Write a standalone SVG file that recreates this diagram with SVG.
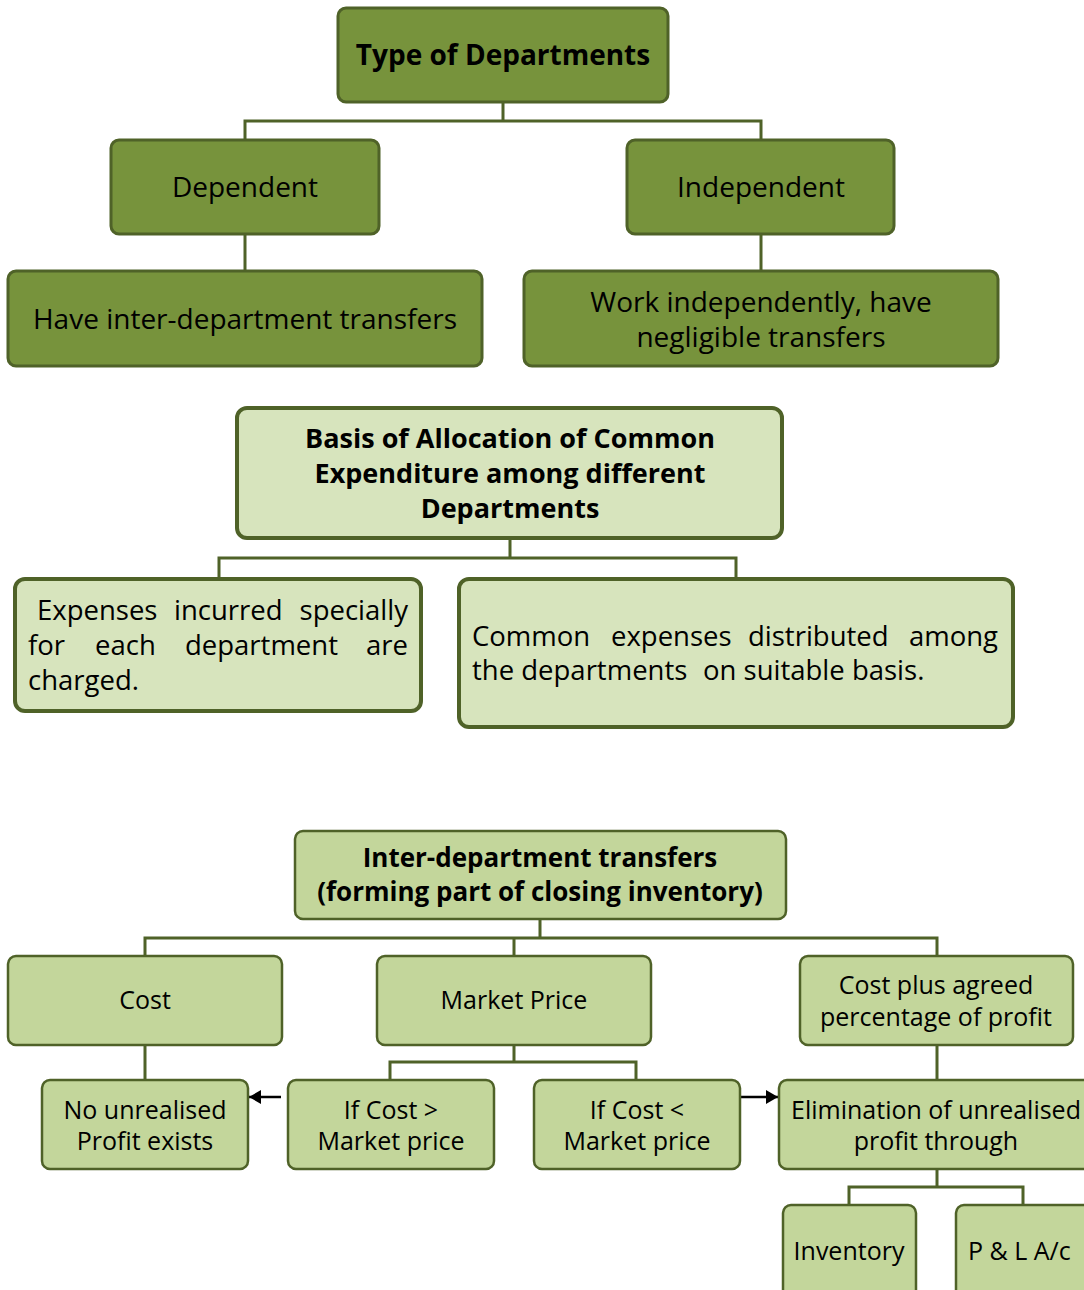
<svg xmlns="http://www.w3.org/2000/svg" width="1084" height="1290" viewBox="0 0 1084 1290">
<defs>
<style>
.t{font-family:"Open Sans","Noto Sans",sans-serif;font-size:25px;fill:#000;text-anchor:middle}
.s1{font-size:28px}
.s2{font-size:27.5px}
.s3{font-size:26px}
.s4{font-size:27px}
.b{font-weight:bold}
.l{text-anchor:start}
.e{text-anchor:end}
.dk{fill:#77933C;stroke:#4F6228;stroke-width:3}
.lt{fill:#D7E4BD;stroke:#4F6228;stroke-width:4}
.md{fill:#C3D69B;stroke:#4F6228;stroke-width:2.5}
.c{fill:none;stroke:#4F6228;stroke-width:3}
.a{fill:none;stroke:#000;stroke-width:2.5}
</style>
<marker id="ah" viewBox="0 0 12 14" refX="12" refY="7" markerWidth="12" markerHeight="14" markerUnits="userSpaceOnUse" orient="auto">
<path d="M0,0 L12,7 L0,14 z" fill="#000"/>
</marker>
</defs>
<rect width="1084" height="1290" fill="#fff"/>
<g id="connectors">
<path class="c" d="M503,102 V121 M245,140 V121 H761 V140 M245,234 V271 M761,234 V271"/>
<path class="c" d="M510,538 V558 M219,579 V558 H736 V579"/>
<path class="c" d="M540,919 V938 M145,956 V938 H937 V956 M514,938 V956"/>
<path class="c" d="M145,1045 V1080 M514,1045 V1062 M390,1080 V1062 H636 V1080 M937,1045 V1080"/>
<path class="c" d="M937,1169 V1187 M849,1205 V1187 H1023 V1205"/>
<path class="a" d="M281,1097 H249" marker-end="url(#ah)"/>
<path class="a" d="M736,1097 H778" marker-end="url(#ah)"/>
</g>
<g id="n-type"><rect class="dk" x="338" y="8" width="330" height="94" rx="8"/><text class="t s1 b" x="503" y="65">Type of Departments</text></g>
<g id="n-dependent"><rect class="dk" x="111" y="140" width="268" height="94" rx="8"/><text class="t s1" x="245" y="197">Dependent</text></g>
<g id="n-independent"><rect class="dk" x="627" y="140" width="267" height="94" rx="8"/><text class="t s1" x="761" y="197">Independent</text></g>
<g id="n-have"><rect class="dk" x="8" y="271" width="474" height="95" rx="8"/><text class="t s1" x="245" y="329">Have inter-department transfers</text></g>
<g id="n-work"><rect class="dk" x="524" y="271" width="474" height="95" rx="8"/><text class="t s1" x="761" y="312">Work independently, have</text><text class="t s1" x="761" y="347">negligible transfers</text></g>
<g id="n-basis"><rect class="lt" x="237" y="408" width="545" height="130" rx="10"/><text class="t s4 b" x="510" y="448">Basis of Allocation of Common</text><text class="t s4 b" x="510" y="483">Expenditure among different</text><text class="t s4 b" x="510" y="518">Departments</text></g>
<g id="n-expenses"><rect class="lt" x="15" y="579" width="406" height="132" rx="10"/>
<text class="t s2 l" y="620"><tspan x="37">Expenses</tspan><tspan x="174">incurred</tspan></text><text class="t s2 e" x="408" y="620">specially</text>
<text class="t s2 l" y="655"><tspan x="28">for</tspan><tspan x="95">each</tspan><tspan x="185">department</tspan></text><text class="t s2 e" x="408" y="655">are</text>
<text class="t s2 l" x="28" y="690">charged.</text></g>
<g id="n-common"><rect class="lt" x="459" y="579" width="554" height="148" rx="10"/>
<text class="t s2 l" y="646"><tspan x="472">Common</tspan><tspan x="611">expenses</tspan><tspan x="748">distributed</tspan></text><text class="t s2 e" x="998" y="646">among</text>
<text class="t s2 l" y="680"><tspan x="472">the departments</tspan><tspan x="703">on suitable basis.</tspan></text></g>
<g id="n-inter"><rect class="md" x="295" y="831" width="491" height="88" rx="8"/><text class="t s3 b" x="540" y="867">Inter-department transfers</text><text class="t s3 b" x="540" y="901">(forming part of closing inventory)</text></g>
<g id="n-cost"><rect class="md" x="8" y="956" width="274" height="89" rx="8"/><text class="t" x="145" y="1009">Cost</text></g>
<g id="n-market"><rect class="md" x="377" y="956" width="274" height="89" rx="8"/><text class="t" x="514" y="1009">Market Price</text></g>
<g id="n-costplus"><rect class="md" x="800" y="956" width="273" height="89" rx="8"/><text class="t" x="936" y="994">Cost plus agreed</text><text class="t" x="936" y="1026">percentage of profit</text></g>
<g id="n-nounreal"><rect class="md" x="42" y="1080" width="206" height="89" rx="8"/><text class="t" x="145" y="1119">No unrealised</text><text class="t" x="145" y="1150">Profit exists</text></g>
<g id="n-gt"><rect class="md" x="288" y="1080" width="206" height="89" rx="8"/><text class="t" x="391" y="1119">If Cost &gt;</text><text class="t" x="391" y="1150">Market price</text></g>
<g id="n-lt"><rect class="md" x="534" y="1080" width="206" height="89" rx="8"/><text class="t" x="637" y="1119">If Cost &lt;</text><text class="t" x="637" y="1150">Market price</text></g>
<g id="n-elim"><rect class="md" x="779" y="1080" width="320" height="89" rx="8"/><text class="t" x="936" y="1119">Elimination of unrealised</text><text class="t" x="936" y="1150">profit through</text></g>
<g id="n-inventory"><rect class="md" x="783" y="1205" width="133" height="100" rx="8"/><text class="t" x="849" y="1260">Inventory</text></g>
<g id="n-pl"><rect class="md" x="956" y="1205" width="140" height="100" rx="8"/><text class="t l" x="968" y="1260">P &amp; L A/c</text></g>
</svg>
